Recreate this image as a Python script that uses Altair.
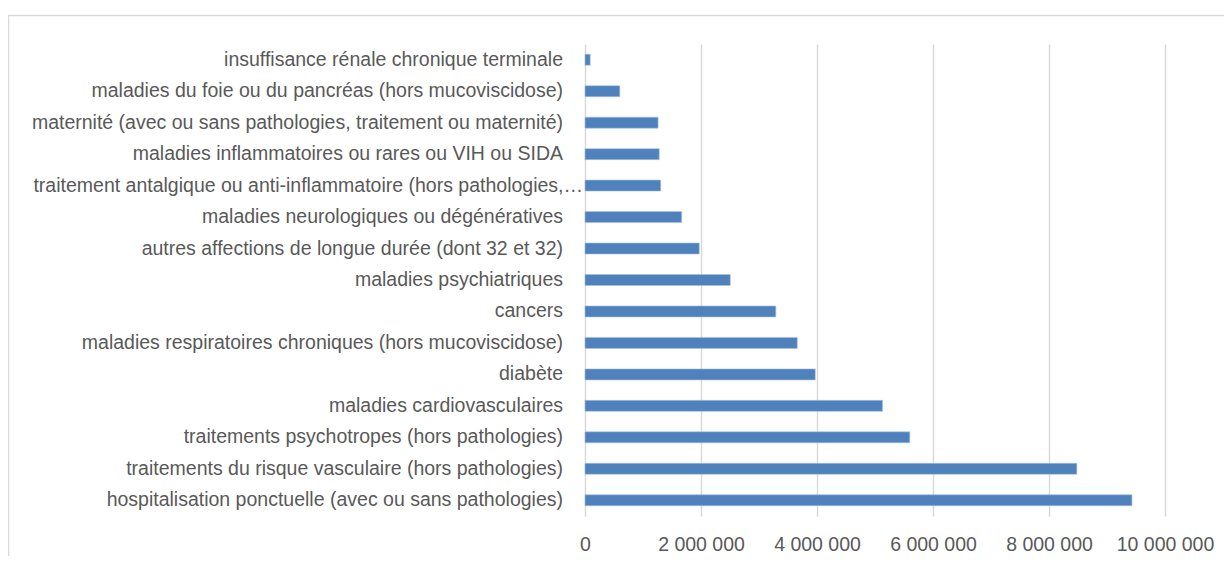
import altair as alt
import pandas as pd

categories = [
    "insuffisance rénale chronique terminale",
    "maladies du foie ou du pancréas (hors mucoviscidose)",
    "maternité (avec ou sans pathologies, traitement ou maternité)",
    "maladies inflammatoires ou rares ou VIH ou SIDA",
    "traitement antalgique ou anti-inflammatoire (hors pathologies,…",
    "maladies neurologiques ou dégénératives",
    "autres affections de longue durée (dont 32 et 32)",
    "maladies psychiatriques",
    "cancers",
    "maladies respiratoires chroniques (hors mucoviscidose)",
    "diabète",
    "maladies cardiovasculaires",
    "traitements psychotropes (hors pathologies)",
    "traitements du risque vasculaire (hors pathologies)",
    "hospitalisation ponctuelle (avec ou sans pathologies)",
]
values = [90000, 600000, 1260000, 1280000, 1305000, 1667000, 1970000, 2505000,
          3290000, 3660000, 3970000, 5130000, 5600000, 8480000, 9430000]
truncated = [False, False, False, False, True, False, False, False,
             False, False, False, False, False, False, False]
x_ticks = [0, 2000000, 4000000, 6000000, 8000000, 10000000]

df = pd.DataFrame({"cat": categories, "val": values, "trunc": truncated})

FONT = "Liberation Sans"
FS = 19.5
GRAY = "#595959"

y_enc = alt.Y("cat:N", sort=categories, axis=None,
              scale=alt.Scale(paddingInner=0.65, paddingOuter=0.325))

bars = alt.Chart(df).mark_bar(color="#4F81BD", stroke="#A9C1DF", strokeWidth=0.6).encode(
    x=alt.X("val:Q",
            scale=alt.Scale(domain=[0, 10000000], nice=False),
            axis=alt.Axis(values=x_ticks, title=None, domain=False, ticks=False,
                          grid=True, gridColor="#D9D9D9", gridWidth=1.5,
                          labelFont=FONT, labelFontSize=FS, labelColor=GRAY,
                          labelPadding=19, labelBaseline="top", labelOverlap=False,
                          labelFlush=False, labelAlign="center",
                          labelExpr="replace(replace(format(datum.value, ','), ',', ' '), ',', ' ')")),
    y=y_enc,
)

labels = alt.Chart(df).transform_filter("!datum.trunc").mark_text(
    align="right", baseline="middle", font=FONT, fontSize=FS, color=GRAY
).encode(y=y_enc, x=alt.value(-22), text="cat:N")

labels_t = alt.Chart(df).transform_filter("datum.trunc").mark_text(
    align="right", baseline="middle", font=FONT, fontSize=FS, color=GRAY
).encode(y=y_enc, x=alt.value(-2), text="cat:N")

frame = alt.Chart(df).transform_filter("datum.trunc").mark_rect(
    fill=None, stroke="#D9D9D9", strokeWidth=1.5
).encode(x=alt.value(-576.5), x2=alt.value(800), y=alt.value(-28.5), y2=alt.value(700))

chart = alt.layer(frame, bars, labels, labels_t).properties(
    width=580, height=472,
    autosize=alt.AutoSizeParams(type="none"),
    padding={"left": 577, "top": 36, "right": 59, "bottom": 40},
).configure_view(stroke=None)

chart.save("out.html", embed_options={"renderer": "svg", "actions": False})
